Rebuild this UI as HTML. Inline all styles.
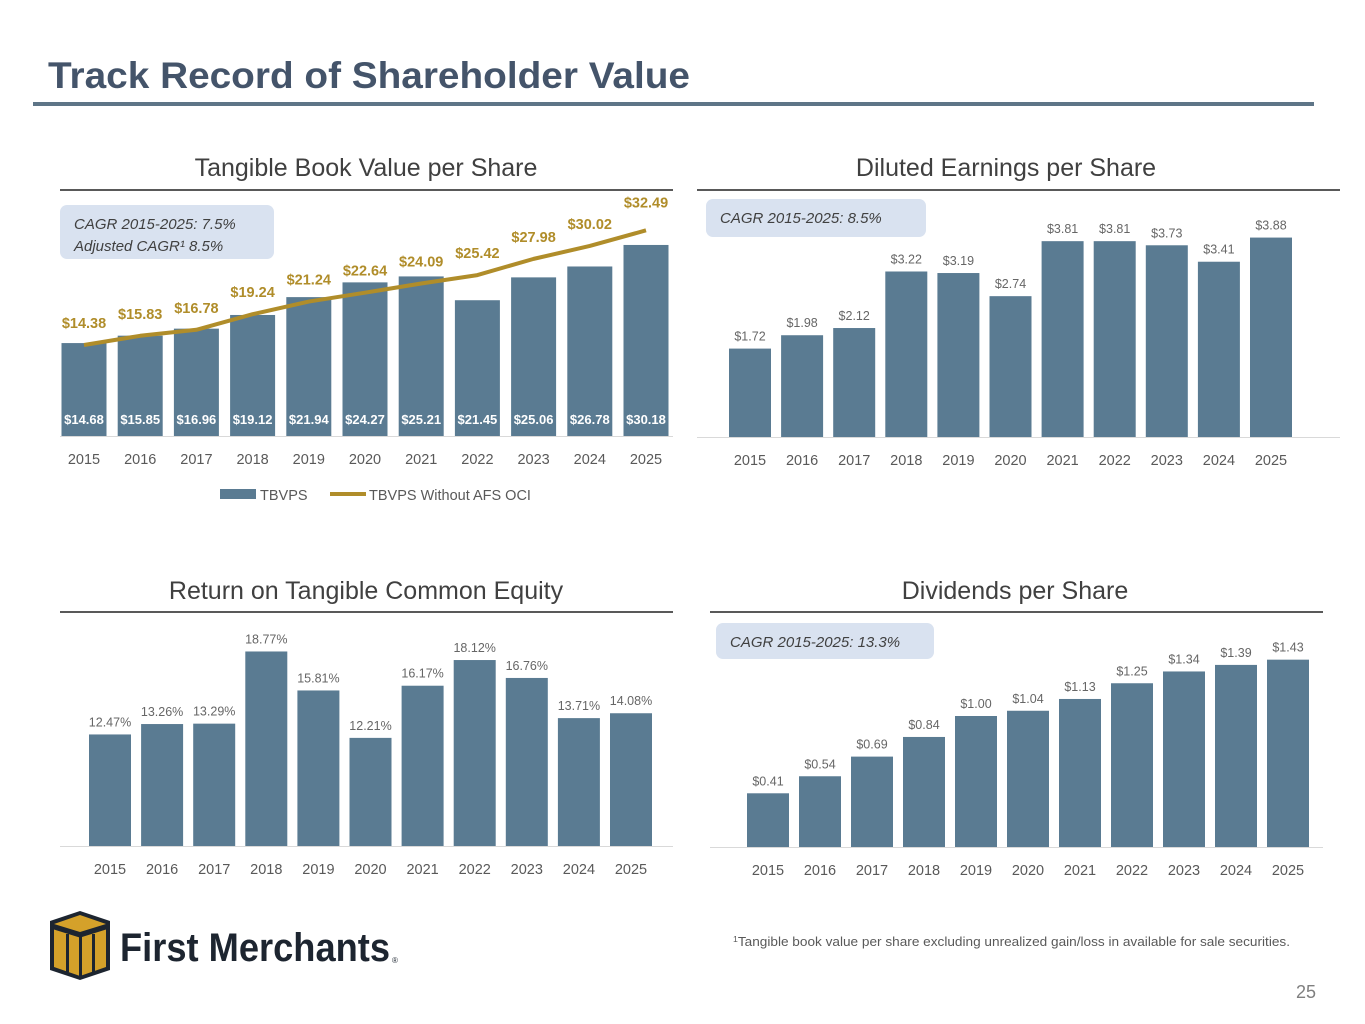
<!DOCTYPE html>
<html><head><meta charset="utf-8">
<style>
body{margin:0;width:1365px;height:1024px;background:#fff;font-family:"Liberation Sans",sans-serif;position:relative;overflow:hidden}
svg{position:absolute;left:0;top:0}
</style></head>
<body>
<svg width="1365" height="1024" id="s">
<text x="48" y="88" font-size="37" font-weight="bold" fill="#44546a" textLength="642" lengthAdjust="spacingAndGlyphs">Track Record of Shareholder Value</text>
<rect x="33" y="102" width="1281" height="4" fill="#5e7587"/>
<g id="c1"></g>
<g id="c2"></g>
<g id="c3"></g>
<g id="c4"></g>
<g>
<polygon points="80,911 110,921 110,970 80,980 50,970 50,921" fill="#1d2530"/>
<polygon points="80,915 106,924 80,932 54,924" fill="#d4a12a"/>
<polygon points="54,928 80,936 106,928 106,967 80,976 54,967" fill="#d4a12a"/>
<rect x="66" y="934" width="3" height="38" fill="#1d2530"/><rect x="79" y="937" width="3" height="40" fill="#1d2530"/><rect x="92" y="934" width="3" height="38" fill="#1d2530"/>
<polyline points="54,928 80,936 106,928" fill="none" stroke="#1d2530" stroke-width="3"/>
<text x="120" y="961" font-size="40" font-weight="bold" fill="#1d2530" textLength="270" lengthAdjust="spacingAndGlyphs">First Merchants</text>
<text x="392" y="963" font-size="8" fill="#1d2530">®</text>
</g>
<text x="733" y="946" font-size="12.5" fill="#595959" textLength="557" lengthAdjust="spacingAndGlyphs"><tspan font-size="8" dy="-4">1</tspan><tspan dy="4">Tangible book value per share excluding unrealized gain/loss in available for sale securities.</tspan></text>
<text x="1316" y="998" font-size="18" fill="#7f7f7f" text-anchor="end">25</text>
</svg>
<script>
const years=["2015","2016","2017","2018","2019","2020","2021","2022","2023","2024","2025"];
const tbvps=[14.68,15.85,16.96,19.12,21.94,24.27,25.21,21.45,25.06,26.78,30.18];
const tbvpsAdj=[14.38,15.83,16.78,19.24,21.24,22.64,24.09,25.42,27.98,30.02,32.49];
const eps=[1.72,1.98,2.12,3.22,3.19,2.74,3.81,3.81,3.73,3.41,3.88];
const rotce=[12.47,13.26,13.29,18.77,15.81,12.21,16.17,18.12,16.76,13.71,14.08];
const dps=[0.41,0.54,0.69,0.84,1.00,1.04,1.13,1.25,1.34,1.39,1.43];
const NS="http://www.w3.org/2000/svg";
const BAR="#5a7b92",GOLD="#b08d2a";
function mk(p,tag,at,txt){const e=document.createElementNS(NS,tag);for(const k in at)e.setAttribute(k,at[k]);if(txt!=null)e.textContent=txt;p.appendChild(e);return e;}
function chart(o){
 const g=document.getElementById(o.id);
 const t=mk(g,'text',{x:o.tx,y:o.ty,'font-size':25,fill:'#404040','text-anchor':'middle'},o.title);
 
 
 const r=mk(g,'rect',{x:o.ux1,y:o.uy,width:o.ux2-o.ux1,height:2,fill:'#595959'});
 
 
 const X=i=>o.x0+i*o.pitch;
 const Y=v=>o.base-(v-o.min)*o.scale;
 mk(g,'line',{x1:o.ux1,x2:o.ux2,y1:o.base+0.5,y2:o.base+0.5,stroke:'#d9d9d9'});
 o.vals.forEach((v,i)=>{
  const b=mk(g,'rect',{x:X(i)-o.bw/2,y:Y(v),width:o.bw,height:o.base-Y(v),fill:BAR});
  
  
  const l=o.inside?mk(g,'text',{x:X(i),y:o.base-12,'font-size':13,'font-weight':'bold',fill:'#fff','text-anchor':'middle'},o.fmt(v))
   :mk(g,'text',{x:X(i),y:Y(v)-8,'font-size':12.5,fill:'#666','text-anchor':'middle'},o.fmt(v));
  
  
  const yl=mk(g,'text',{x:X(i),y:o.base+28,'font-size':14.5,fill:'#595959','text-anchor':'middle'},years[i]);
  
  
 });
 if(o.line){
  const pl=mk(g,'polyline',{points:o.line.map((v,i)=>X(i)+','+Y(v)).join(' '),fill:'none',stroke:GOLD,'stroke-width':4,'stroke-linejoin':'round'});
  
  
  o.line.forEach((v,i)=>{
   const l=mk(g,'text',{x:X(i),y:Y(v)-(i==10?23:17),'font-size':14.5,'font-weight':'bold',fill:GOLD,'text-anchor':'middle'},'$'+v.toFixed(2));
   
   
  });
 }
 if(o.box){
  const b=mk(g,'rect',{x:o.box[0],y:o.box[1],width:o.box[2],height:o.box[3],rx:7,fill:'#d9e2f0'});
  
  
  o.boxText.forEach((s,k)=>{
   const tt=mk(g,'text',{x:o.box[0]+14,y:o.box[1]+24+k*22,'font-size':15,'font-style':'italic',fill:'#404040'},s);
   
   
  });
 }
}
const money=v=>'$'+v.toFixed(2);
chart({id:'c1',title:'Tangible Book Value per Share',tx:366,ty:176,ux1:60,ux2:673,uy:189,x0:84,pitch:56.2,bw:45,base:436,min:0,scale:6.33,vals:tbvps,line:tbvpsAdj,inside:true,fmt:money,box:[60,205,214,54],boxText:['CAGR 2015-2025: 7.5%','Adjusted CAGR¹ 8.5%']});
chart({id:'c2',title:'Diluted Earnings per Share',tx:1006,ty:176,ux1:697,ux2:1340,uy:189,x0:750,pitch:52.1,bw:42,base:437,min:0,scale:51.4,vals:eps,fmt:money,box:[706,199,220,38],boxText:['CAGR 2015-2025: 8.5%']});
chart({id:'c3',title:'Return on Tangible Common Equity',tx:366,ty:599,ux1:60,ux2:673,uy:611,x0:110,pitch:52.1,bw:42,base:846,min:4,scale:13.17,vals:rotce,fmt:v=>v.toFixed(2)+'%'});
chart({id:'c4',title:'Dividends per Share',tx:1015,ty:599,ux1:710,ux2:1323,uy:611,x0:768,pitch:52,bw:42,base:847,min:0,scale:131,vals:dps,fmt:money,box:[716,623,218,36],boxText:['CAGR 2015-2025: 13.3%']});
const g1=document.getElementById('c1');
const lg=document.createElementNS(NS,'g');


g1.appendChild(lg);
mk(lg,'rect',{x:220,y:489,width:36,height:10,fill:BAR});
mk(lg,'text',{x:260,y:500,'font-size':14.5,fill:'#595959'},'TBVPS');
mk(lg,'line',{x1:330,x2:366,y1:494,y2:494,stroke:GOLD,'stroke-width':4});
mk(lg,'text',{x:369,y:500,'font-size':14.5,fill:'#595959'},'TBVPS Without AFS OCI');
</script>
</body></html>
